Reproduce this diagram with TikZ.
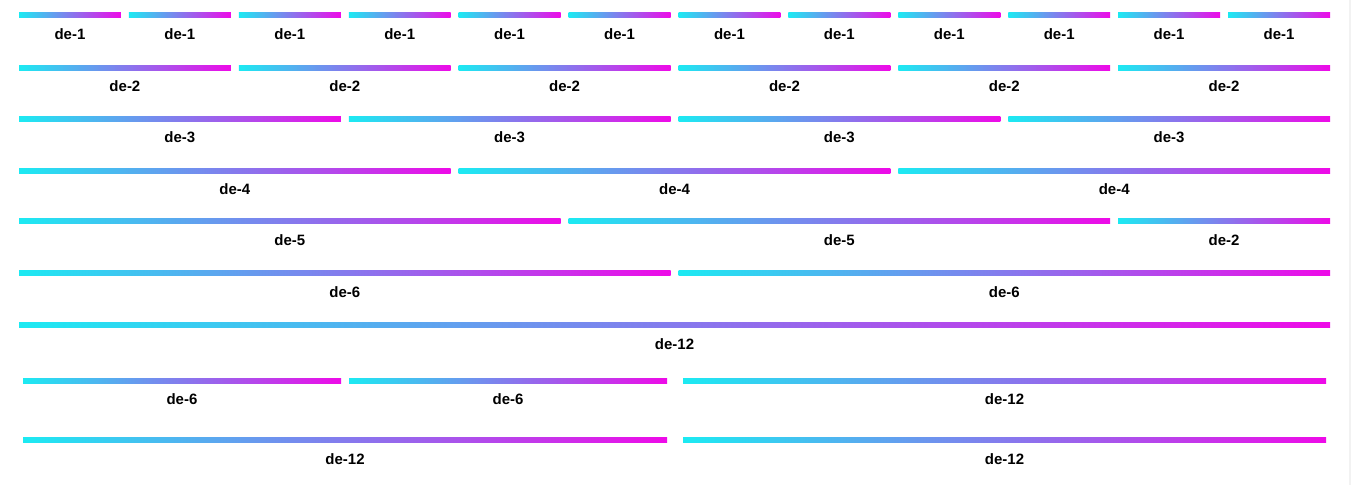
\documentclass[tikz,border=0pt]{standalone}
\usepackage{fontspec}
\setmainfont{Liberation Sans}
\usetikzlibrary{shadings}
\definecolor{cy}{HTML}{1CEAF2}
\definecolor{mg}{HTML}{EE0AE8}
\newcommand\gbar[5]{%
  \node[gbarsty, minimum width={(#3)-(#2)}] (#1) at ({((#2)+(#3))/2},#4) {};
  \node[lbl] (#1t) at ([yshift=-19pt]#1.center) {#5};}
\newcommand\cbar[5]{%
  \pgfmathsetmacro\xa{19+(#2)*109.917}%
  \pgfmathsetmacro\xb{19+((#2)+(#3))*109.917-8}%
  \gbar{#1}{\xa}{\xb}{#4}{#5}}
\begin{document}
\begin{tikzpicture}[x=1pt,y=-1pt,
  gbarsty/.style={rectangle, inner sep=0pt, minimum height=5pt, left color=cy, right color=mg, draw=none},
  lbl/.style={font=\fontsize{15}{18}\selectfont\bfseries, text=black, inner sep=0pt}]
\useasboundingbox (0,0) rectangle (1351,485);
\fill[white] (0,0) rectangle (1351,485);
\fill[gray!10] (1349,0) rectangle (1351,485);
% row 1
\foreach \c in {0,...,11} {\cbar{a\c}{\c}{1}{15.3}{de-1}}
% row 2
\foreach \c in {0,...,5} {\cbar{b\c}{2*\c}{2}{67.5}{de-2}}
% row 3
\foreach \c in {0,...,3} {\cbar{c\c}{3*\c}{3}{118.5}{de-3}}
% row 4
\foreach \c in {0,...,2} {\cbar{d\c}{4*\c}{4}{170.5}{de-4}}
% row 5
\cbar{e0}{0}{5}{221.3}{de-5}
\cbar{e1}{5}{5}{221.3}{de-5}
\cbar{e2}{10}{2}{221.3}{de-2}
% row 6
\cbar{f0}{0}{6}{273.3}{de-6}
\cbar{f1}{6}{6}{273.3}{de-6}
% row 7
\cbar{g0}{0}{12}{325.3}{de-12}
% row 8
\gbar{h1}{23}{341}{380.5}{de-6}
\gbar{h2}{349}{667}{380.5}{de-6}
\gbar{h3}{683}{1326}{380.5}{de-12}
% row 9
\gbar{i1}{23}{667}{440.3}{de-12}
\gbar{i2}{683}{1326}{440.3}{de-12}
\end{tikzpicture}
\end{document}
